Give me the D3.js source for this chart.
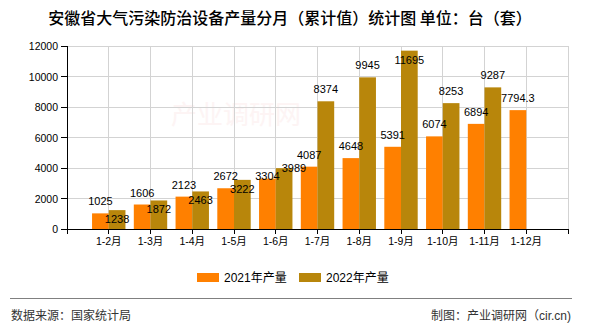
<!DOCTYPE html>
<html><head><meta charset="utf-8">
<script src="https://cdn.jsdelivr.net/npm/d3@7/dist/d3.min.js"></script>
<style>
body{margin:0;background:#fff;}
text{font-family:"Liberation Sans","Noto Sans CJK SC",sans-serif;}
</style></head>
<body><svg id="c" width="590" height="330"></svg>
<script>
const categories = ["1-2月","1-3月","1-4月","1-5月","1-6月","1-7月","1-8月","1-9月","1-10月","1-11月","1-12月"];
const values2021 = [1025,1606,2123,2672,3304,4087,4648,5391,6074,6894,7794.3];
const values2022 = [1238,1872,2463,3222,3989,8374,9945,11695,8253,9287,null];
const yTicks = [0,2000,4000,6000,8000,10000,12000];
const seriesNames = ["2021年产量","2022年产量"];
const colors = ["#FF8000","#B8860B"];

const svg = d3.select("#c");
const L=67,R=568,B=229,T=46;
const x = d3.scalePoint().domain(categories).range([L,R]).padding(1);
const y = d3.scaleLinear().domain([0,12000]).range([B,T]);
const bw = x.step()*0.4;

// title
svg.append("text").attr("x",290).attr("y",24).attr("text-anchor","middle")
  .attr("font-size",16).attr("font-weight",500).attr("fill","#000")
  .style("font-family","'Noto Sans CJK SC',sans-serif")
  .text("安徽省大气污染防治设备产量分月（累计值）统计图 单位：台（套）");

// watermark
svg.append("text").attr("x",236).attr("y",124).attr("text-anchor","middle")
  .attr("font-size",26).attr("fill","#fdf4f4")
  .style("font-family","'Noto Sans CJK SC',sans-serif").text("产业调研网");

// grid
const g = svg.append("g");
g.selectAll(".hg").data(yTicks.filter(d=>d>0)).join("line")
  .attr("x1",L).attr("x2",R).attr("y1",d=>y(d)).attr("y2",d=>y(d))
  .attr("stroke","#d3d3d3").attr("stroke-width",1).attr("shape-rendering","crispEdges");
const vgrid = categories.map(c=>x(c)).concat([R]);
g.selectAll(".vg").data(vgrid).join("line")
  .attr("x1",d=>d).attr("x2",d=>d).attr("y1",T).attr("y2",B)
  .attr("stroke","#d3d3d3").attr("stroke-width",1).attr("shape-rendering","crispEdges");

// bars
const bars = svg.append("g");
bars.selectAll(".b1").data(categories).join("rect")
  .attr("x",c=>x(c)-bw).attr("width",bw)
  .attr("y",(c,i)=>y(values2021[i])).attr("height",(c,i)=>B-y(values2021[i]))
  .attr("fill",colors[0]);
bars.selectAll(".b2").data(categories.filter((c,i)=>values2022[i]!=null)).join("rect")
  .attr("x",c=>x(c)).attr("width",bw)
  .attr("y",c=>y(values2022[categories.indexOf(c)])).attr("height",c=>B-y(values2022[categories.indexOf(c)]))
  .attr("fill",colors[1]);

// axes
const ax = svg.append("g").attr("transform",`translate(0,${B})`);
ax.append("line").attr("x1",L).attr("x2",R).attr("y1",0).attr("y2",0).attr("stroke","#000").attr("shape-rendering","crispEdges");
ax.selectAll(".xt").data([L].concat(vgrid)).join("line")
  .attr("x1",d=>d).attr("x2",d=>d).attr("y1",0).attr("y2",5).attr("stroke","#000").attr("shape-rendering","crispEdges");
ax.selectAll(".xl").data(categories).join("text")
  .attr("x",c=>x(c)).attr("y",16).attr("text-anchor","middle").attr("font-size",10.5).attr("fill","#000").text(c=>c);

const ay = svg.append("g");
ay.append("line").attr("x1",L).attr("x2",L).attr("y1",T).attr("y2",B).attr("stroke","#000").attr("shape-rendering","crispEdges");
ay.selectAll(".yt").data(yTicks).join("line")
  .attr("x1",L-6).attr("x2",L).attr("y1",d=>y(d)).attr("y2",d=>y(d)).attr("stroke","#000").attr("shape-rendering","crispEdges");
ay.selectAll(".yl").data(yTicks).join("text")
  .attr("x",L-9).attr("y",d=>y(d)+4).attr("text-anchor","end").attr("font-size",10.5).attr("fill","#000").text(d=>d);

// labels
const lg = svg.append("g");
const fmt = v => String(v);
const boxes = [];
const oTexts = [];
categories.forEach((c,i)=>{
  const v = values2021[i];
  const cx = x(c)-bw/2, cy = y(v)-12;
  const t = lg.append("text").attr("x",cx).attr("y",cy+4).attr("text-anchor","middle").attr("font-size",11).attr("fill","#000").text(fmt(v));
  const w = t.node().getComputedTextLength();
  oTexts.push(t);
  boxes.push({x0:cx-w/2,x1:cx+w/2,y0:cy-6,y1:cy+6});
});
function hit(b){return boxes.some(o=>b.x0<o.x1&&b.x1>o.x0&&b.y0<o.y1&&b.y1>o.y0);}
categories.forEach((c,i)=>{
  const v = values2022[i]; if(v==null) return;
  const cx = x(c)+bw/2;
  const t = lg.append("text").attr("text-anchor","middle").attr("font-size",11).attr("fill","#000").text(fmt(v));
  const w = t.node().getComputedTextLength();
  const cands = [[cx,y(v)-12],[cx,y(v)+9]];
  let pos=null;
  for(const [px,py] of cands){
    const b={x0:px-w/2,x1:px+w/2,y0:py-6,y1:py+6};
    if(b.y0<T-2) continue;
    if(!hit(b)){pos=[px,py];break;}
  }
  if(!pos){
    // crowded: push the paired labels apart sideways, both near the bar tops
    const o = boxes[i];
    const oy = y(values2021[i]) - 3;
    oTexts[i].attr("y",oy+4);
    pos=[o.x1+2+w/2, y(v)];
  }
  t.attr("x",pos[0]).attr("y",pos[1]+4);
});

// legend
const leg = svg.append("g");
[197,299].forEach((lx,k)=>{
  leg.append("rect").attr("x",lx).attr("y",273).attr("width",22).attr("height",9).attr("fill",colors[k]);
  leg.append("text").attr("x",lx+27).attr("y",282).attr("font-size",12).attr("fill","#000").text(seriesNames[k]);
});

// footer
svg.append("line").attr("x1",10).attr("x2",572).attr("y1",298).attr("y2",298).attr("stroke","#808080").attr("shape-rendering","crispEdges");
svg.append("text").attr("x",11).attr("y",320).attr("font-size",12).attr("fill","#333").text("数据来源：国家统计局");
svg.append("text").attr("x",571).attr("y",320).attr("text-anchor","end").attr("font-size",12).attr("fill","#333").text("制图：产业调研网（cir.cn)");
</script></body></html>
